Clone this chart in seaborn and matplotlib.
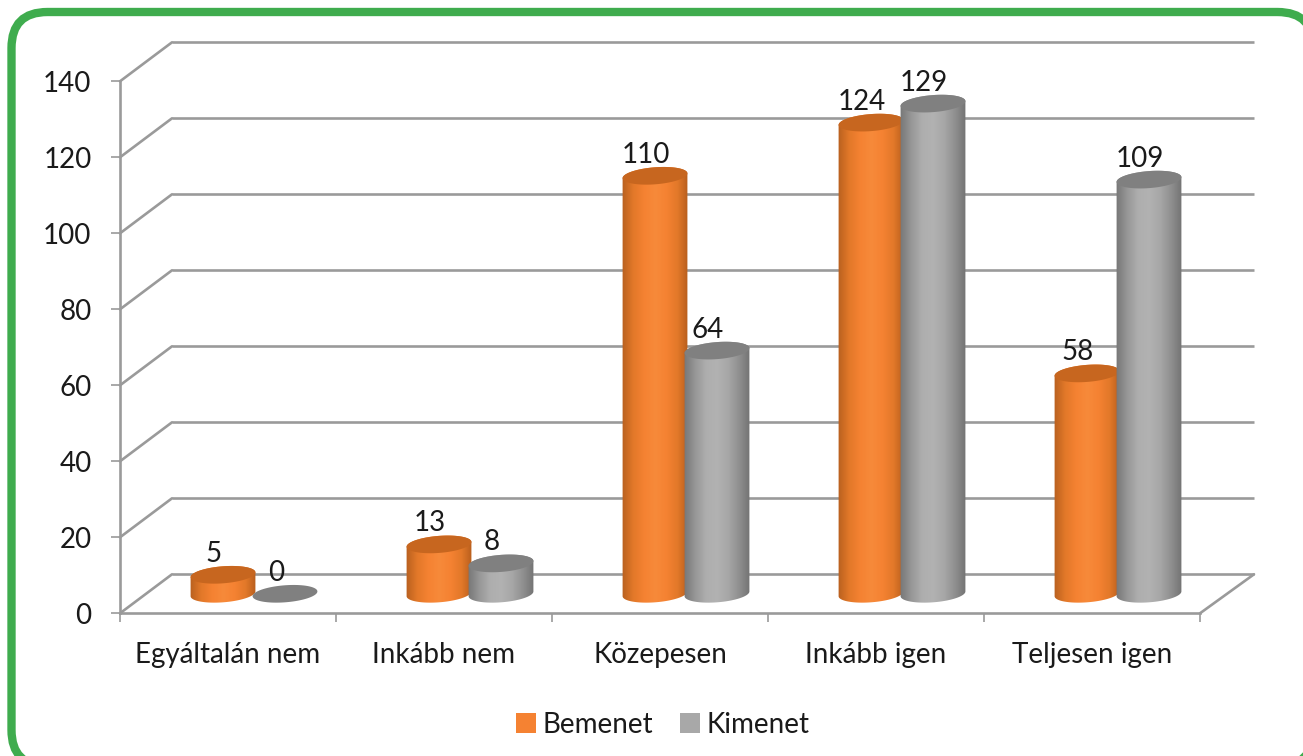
import numpy as np
import pandas as pd
import matplotlib
matplotlib.use("Agg")
import matplotlib.pyplot as plt
from matplotlib.colors import LinearSegmentedColormap
from matplotlib.patches import FancyBboxPatch, Polygon, Patch
import seaborn as sns

categories = ["Egyáltalán nem", "Inkább nem", "Közepesen", "Inkább igen", "Teljesen igen"]
bemenet = [5, 13, 110, 124, 58]
kimenet = [0, 8, 64, 129, 109]
series_names = ["Bemenet", "Kimenet"]
y_ticks = [0, 20, 40, 60, 80, 100, 120, 140]

W, H = 1303, 756
sns.set_theme(style="white")
plt.rcParams["font.family"] = ["Lato", "DejaVu Sans"]

TXT = "#1a1a1a"
GRID = "#9a9a9a"
FS = 20

fig = plt.figure(figsize=(W / 100, H / 100), dpi=100, facecolor="white")

# green rounded frame
bg = fig.add_axes([0, 0, 1, 1], zorder=0)
bg.set_xlim(0, W)
bg.set_ylim(H, 0)
bg.axis("off")
bg.add_patch(FancyBboxPatch((11.5, 12), 1302, 754, boxstyle="round,pad=0,rounding_size=36",
                            fc="white", ec="#3fac4e", lw=6))

# plot axes: front plane of the 3D box
x0_px, x1_px, y0_px, y1_px = 120, 1200, 613.3, 81.3
ax = fig.add_axes([x0_px / W, 1 - y0_px / H, (x1_px - x0_px) / W, (y0_px - y1_px) / H], zorder=1)
ax.patch.set_alpha(0)

df = pd.DataFrame({
    "cat": categories * 2,
    "val": bemenet + kimenet,
    "ser": [series_names[0]] * 5 + [series_names[1]] * 5,
})
sns.barplot(data=df, x="cat", y="val", hue="ser", order=categories, hue_order=series_names,
            palette=["#f58232", "#a8a8a8"], width=0.574, gap=0, legend=False, ax=ax,
            saturation=1, zorder=3)

sx = 1080 / 5            # px per category
sy = (y0_px - y1_px) / 140  # px per unit
XL, XR = -0.5, 4.5
ax.set_xlim(XL, XR)
ax.set_ylim(0, 140)

dx_back, dy_back = 52 / sx, 39 / sy
dx_right = 54 / sx
dx_bar, dy_bar = 26 / sx, 19.5 / sy

# back wall grid + side wall lines
for v in y_ticks:
    ax.plot([XL + dx_back, XR + dx_right], [v + dy_back] * 2, color=GRID, lw=1.9, clip_on=False, zorder=1,
            solid_capstyle="butt")
    ax.plot([XL, XL + dx_back], [v, v + dy_back], color=GRID, lw=1.9, clip_on=False, zorder=1)
ax.plot([XR, XR + dx_right], [0, dy_back], color=GRID, lw=1.9, clip_on=False, zorder=1)

cmaps = [
    LinearSegmentedColormap.from_list("o", ["#b8601f", "#e27829", "#f58232", "#f78a3a", "#f58232", "#e27829", "#b45c1c"]),
    LinearSegmentedColormap.from_list("g", ["#767676", "#979797", "#aeaeae", "#b2b2b2", "#a6a6a6", "#8e8e8e", "#707070"]),
]
top_cols = ["#c7661f", "#808080"]

a_px, b_px, ang = 32.5, 8.5, np.deg2rad(4.5)
t = np.linspace(0, 2 * np.pi, 121)


def ell(xc, yc, tt):
    ex = a_px * np.cos(tt) * np.cos(ang) - b_px * np.sin(tt) * np.sin(ang)
    ey = a_px * np.cos(tt) * np.sin(ang) + b_px * np.sin(tt) * np.cos(ang)
    return xc + ex / sx, yc + ey / sy


grad = np.linspace(0, 1, 256).reshape(1, -1)
for cont, cmap, tc in zip(ax.containers, cmaps, top_cols):
    for bar in cont:
        xc = bar.get_x() + bar.get_width() / 2 + dx_bar
        val = bar.get_height()
        bar.set_x(bar.get_x() + dx_bar)
        bar.set_y(dy_bar)
        bar.set_visible(False)
        base = dy_bar
        top = val + dy_bar
        z = 3 + xc / 10
        if val > 0:
            bx, by = ell(xc, base, np.linspace(np.pi, 2 * np.pi, 60))
            tx, ty = ell(xc, top, np.linspace(0, np.pi, 60))
            poly = Polygon(np.column_stack([np.r_[bx, tx], np.r_[by, ty]]), closed=True,
                           transform=ax.transData, fc="none", ec="none")
            ax.add_patch(poly)
            hw = a_px * 1.02 / sx
            im = ax.imshow(grad, cmap=cmap, aspect="auto", zorder=z,
                           extent=[xc - hw, xc + hw, base - 4, top + 4], clip_on=True)
            im.set_clip_path(poly)
        ex, ey = ell(xc, top, t)
        ax.fill(ex, ey, color=tc, zorder=z + 0.01, clip_on=False, lw=0)
        ax.annotate(f"{int(val)}", (xc, top), xytext=(-9, 21), textcoords="offset pixels",
                    ha="center", va="center", fontsize=FS, color=TXT, annotation_clip=False, zorder=9)

ax.set_xlim(XL, XR)
ax.set_ylim(0, 140)

# axes
for s in ["top", "right"]:
    ax.spines[s].set_visible(False)
for s in ["left", "bottom"]:
    ax.spines[s].set_color(GRID)
    ax.spines[s].set_linewidth(1.9)
    ax.spines[s].set_zorder(2)
ax.set_xlabel("")
ax.set_ylabel("")
ax.set_yticks(y_ticks)
ax.set_xticks(np.arange(-0.5, 5, 1), minor=True)
ax.set_xticks(np.arange(5))
ax.set_xticklabels(categories)
ax.tick_params(axis="x", which="major", length=0, pad=21, labelsize=FS, labelcolor=TXT)
ax.tick_params(axis="x", which="minor", length=6.5, width=1.2, color=GRID, bottom=True)
ax.tick_params(axis="y", length=6.5, width=1.2, color=GRID, pad=14, labelsize=FS, labelcolor=TXT, left=True)

handles = [Patch(fc="#f58232", ec="none"), Patch(fc="#a8a8a8", ec="none")]
fig.legend(handles, series_names, loc="center", bbox_to_anchor=(663 / W, 1 - 725 / H), ncol=2, frameon=False,
           fontsize=FS, handlelength=0.72, handleheight=0.72, handletextpad=0.25, columnspacing=0.95,
           labelcolor=TXT)

fig.savefig("out.png", dpi=100, facecolor="white")
